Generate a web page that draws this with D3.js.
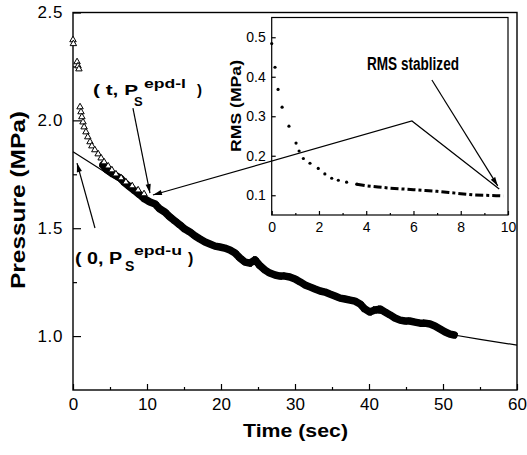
<!DOCTYPE html>
<html><head><meta charset="utf-8">
<script src="https://cdn.jsdelivr.net/npm/d3@7"></script>
<style>
body{margin:0;background:#fff}
svg{display:block}
text{font-family:"Liberation Sans",Arial,Helvetica,sans-serif;fill:#000}
</style>
</head><body>
<svg id="c" width="527" height="455"></svg>
<script>
// ---------- data ----------
const bandTime = [4.05,4.6,5.4,6.35,7.0,7.7,8.4,9.05,9.7,10.4,11.1,11.75,12.4,13.1,13.8,14.45,15.1,15.8,16.5,17.15,17.85,18.5,19.2,19.85,20.5,21.2,21.9,22.55,23.25,23.9,24.6,25.3,25.95,26.6,27.3,27.95,28.65,29.3,30.0,30.7,31.35,32.0,32.7,33.4,34.05,34.7,35.4,36.1,36.75,37.45,38.1,38.8,39.45,40.1,40.8,41.5,42.15,42.85,43.5,44.2,44.85,45.5,46.2,46.9,47.55,48.25,48.9,49.6,50.3,50.95,51.5];
const bandPressure = [1.793,1.770,1.751,1.733,1.710,1.691,1.672,1.654,1.635,1.621,1.612,1.589,1.575,1.552,1.533,1.515,1.496,1.482,1.464,1.450,1.436,1.427,1.417,1.413,1.408,1.399,1.385,1.362,1.343,1.338,1.353,1.325,1.306,1.292,1.283,1.278,1.278,1.274,1.265,1.251,1.237,1.228,1.218,1.209,1.204,1.195,1.186,1.176,1.172,1.167,1.162,1.149,1.125,1.112,1.121,1.125,1.112,1.098,1.084,1.074,1.070,1.070,1.065,1.060,1.060,1.056,1.047,1.033,1.019,1.009,1.005];
const triTime = [0,0.05,0.55,0.68,0.8,0.95,1.08,1.2,1.35,1.5,1.75,2.0,2.3,2.55,2.95,3.4,3.8,4.2,4.75,5.25,5.8,6.5,7.15,8.0,8.8,9.6];
const triPressure = [2.373,2.355,2.271,2.252,2.238,2.062,2.039,2.016,1.992,1.969,1.946,1.923,1.900,1.881,1.863,1.844,1.825,1.807,1.788,1.770,1.751,1.733,1.714,1.696,1.677,1.659];
const fitTime = [0,2.5,5,7.5,10,12.5,15,17.5,20,22.5,25,27.5,30,32.5,35,37.5,40,42.5,45,47.5,50,51.5,55,60];
const fitPressure = [1.855,1.800,1.745,1.690,1.632,1.570,1.505,1.443,1.410,1.365,1.335,1.282,1.263,1.220,1.190,1.167,1.115,1.100,1.070,1.060,1.025,1.005,0.985,0.958];
const rmsTime = [0,0.14,0.27,0.44,0.73,1.03,1.16,1.34,1.62,1.97,2.25,2.54,2.82,3.17,3.6];
const rmsValue = [0.484,0.424,0.368,0.323,0.275,0.232,0.212,0.193,0.181,0.168,0.154,0.143,0.138,0.133,0.128];
const rmsTailTime = [3.6,4.0,4.5,5.0,5.5,6.0,6.5,7.0,7.5,8.0,8.5,9.0,9.5,9.8];
const rmsTailValue = [0.128,0.124,0.121,0.118,0.116,0.114,0.112,0.110,0.107,0.104,0.101,0.100,0.099,0.098];
const xTicks = [0,10,20,30,40,50,60];
const xMinor = [5,15,25,35,45,55];
const yTicks = [1.0,1.5,2.0,2.5];
const yMinor = [1.25,1.75,2.25];
const insetXTicks = [0,2,4,6,8,10];
const insetXMinor = [1,3,5,7,9];
const insetYTicks = [0.1,0.2,0.3,0.4,0.5];

// ---------- layout ----------
const svg = d3.select("#c");
const x = d3.scaleLinear().domain([0,60]).range([73,517]);
const y = d3.scaleLinear().domain([0.75,2.5]).range([390,12.5]);
const ix = d3.scaleLinear().domain([0,10]).range([271.7,508]);
const iy = d3.scaleLinear().domain([0.05,0.55]).range([215,17.5]);

function styleAxis(g, size){
  g.select(".domain").remove();
  g.selectAll(".tick line").attr("stroke","#000").attr("stroke-width",1.2);
  g.selectAll(".tick text").attr("font-size",size).attr("fill","#000")
   .style("font-family","'Liberation Sans',Arial,sans-serif");
}

// main axes
svg.append("g").attr("transform","translate(0,390)")
  .call(d3.axisBottom(x).tickValues(xTicks).tickFormat(d3.format("d")).tickSizeInner(-6).tickSizeOuter(0).tickPadding(8))
  .call(g=>styleAxis(g,"17px"));
svg.append("g").attr("transform","translate(0,390)")
  .call(d3.axisBottom(x).tickValues(xMinor).tickFormat("").tickSizeInner(-3).tickSizeOuter(0))
  .call(g=>styleAxis(g,"0px"));
svg.append("g").attr("transform","translate(73,0)")
  .call(d3.axisLeft(y).tickValues(yTicks).tickFormat(d3.format(".1f")).tickSizeInner(-8).tickSizeOuter(0).tickPadding(10))
  .call(g=>styleAxis(g,"17px"))
  .call(g=>g.selectAll(".tick text").attr("letter-spacing","0.6px"));
svg.append("g").attr("transform","translate(73,0)")
  .call(d3.axisLeft(y).tickValues(yMinor).tickFormat("").tickSizeInner(-4).tickSizeOuter(0))
  .call(g=>styleAxis(g,"0px"));
svg.append("rect").attr("x",73).attr("y",12.5).attr("width",517-73).attr("height",390-12.5)
  .attr("fill","none").attr("stroke","#000").attr("stroke-width",1.4);

// axis titles
svg.append("text").attr("transform","translate(25,200) rotate(-90)")
  .attr("text-anchor","middle").attr("font-weight","bold").attr("font-size","21px")
  .attr("textLength",178).attr("lengthAdjust","spacingAndGlyphs").text("Pressure (MPa)");
svg.append("text").attr("x",295.5).attr("y",437)
  .attr("text-anchor","middle").attr("font-weight","bold").attr("font-size","18px")
  .attr("textLength",105).attr("lengthAdjust","spacingAndGlyphs").text("Time (sec)");

// fit curve
const line = d3.line().x(d=>x(d[0])).y(d=>y(d[1]));
svg.append("path").datum(fitTime.map((t,i)=>[t,fitPressure[i]]))
  .attr("d",line).attr("fill","none").attr("stroke","#000").attr("stroke-width",1.2);

// band of filled squares
const band = bandTime.map((t,i)=>[t,bandPressure[i]]);
svg.append("path").datum(band).attr("d",line).attr("fill","none")
  .attr("stroke","#000").attr("stroke-width",7.5).attr("stroke-linejoin","round").attr("stroke-linecap","round");
svg.append("g").selectAll("path").data(band).join("path")
  .attr("transform",d=>`translate(${x(d[0])},${y(d[1])}) rotate(20)`)
  .attr("d",d3.symbol(d3.symbolSquare,36)).attr("fill","#000");

// triangles
svg.append("g").selectAll("path").data(triTime.map((t,i)=>[t,triPressure[i]])).join("path")
  .attr("transform",d=>`translate(${x(d[0])},${y(d[1])})`)
  .attr("d",d3.symbol(d3.symbolTriangle,18)).attr("fill","#fff")
  .attr("stroke","#000").attr("stroke-width",1);

// ---------- inset ----------
const ins = svg.append("g");
ins.append("rect").attr("x",271.7).attr("y",17.5).attr("width",508-271.7).attr("height",215-17.5)
  .attr("fill","#fff").attr("stroke","#000").attr("stroke-width",1.2);
ins.append("g").attr("transform","translate(0,215)")
  .call(d3.axisBottom(ix).tickValues(insetXTicks).tickFormat(d3.format("d")).tickSizeInner(-4).tickSizeOuter(0).tickPadding(7))
  .call(g=>styleAxis(g,"14px"));
ins.append("g").attr("transform","translate(0,215)")
  .call(d3.axisBottom(ix).tickValues(insetXMinor).tickFormat("").tickSizeInner(-2).tickSizeOuter(0))
  .call(g=>styleAxis(g,"0px"));
ins.append("g").attr("transform","translate(271.7,0)")
  .call(d3.axisLeft(iy).tickValues(insetYTicks).tickFormat(d3.format(".1f")).tickSizeInner(-4).tickSizeOuter(0).tickPadding(6))
  .call(g=>styleAxis(g,"14px"));
ins.append("text").attr("transform","translate(241,106) rotate(-90)")
  .attr("text-anchor","middle").attr("font-weight","bold").attr("font-size","15px")
  .attr("textLength",92).attr("lengthAdjust","spacingAndGlyphs").text("RMS (MPa)");
ins.append("g").selectAll("circle").data(rmsTime.map((t,i)=>[t,rmsValue[i]])).join("circle")
  .attr("cx",d=>ix(d[0])).attr("cy",d=>iy(d[1])).attr("r",1.6).attr("fill","#000");
const iline = d3.line().x(d=>ix(d[0])).y(d=>iy(d[1]));
ins.append("path").datum(rmsTailTime.map((t,i)=>[t,rmsTailValue[i]]))
  .attr("d",iline).attr("fill","none").attr("stroke","#000").attr("stroke-width",3)
  .attr("stroke-dasharray","8,3,3,3");

// ---------- annotations ----------
function arrowHead(x1,y1,x2,y2){
  const a = Math.atan2(y2-y1,x2-x1), L=9, w=2.6;
  const bx = x2-L*Math.cos(a), by = y2-L*Math.sin(a);
  const px = -Math.sin(a)*w, py = Math.cos(a)*w;
  svg.append("path").attr("d",`M${x2},${y2}L${bx+px},${by+py}L${bx-px},${by-py}Z`).attr("fill","#000");
}
function seg(pts, head){
  svg.append("path").attr("d",d3.line()(pts)).attr("fill","none").attr("stroke","#000").attr("stroke-width",1.2);
  if(head){const n=pts.length;arrowHead(pts[n-2][0],pts[n-2][1],pts[n-1][0],pts[n-1][1]);}
}
seg([[x(8.1),y(2.057)],[x(10.4),y(1.663)]],true);
seg([[x(2.97),y(1.501)],[x(0.54),y(1.802)]],true);
seg([[x(57.6),y(1.682)],[x(45.8),y(1.997)],[x(10.8),y(1.654)]],true);
seg([[x(48.5),y(2.187)],[x(57.4),y(1.696)]],true);

function txt(s,xx,yy,size,len){
  const t = svg.append("text").attr("x",xx).attr("y",yy).attr("font-weight","bold").attr("font-size",size+"px").text(s);
  if(len) t.attr("textLength",len).attr("lengthAdjust","spacingAndGlyphs");
  return t;
}
txt("( t, P",93,95,15,45);
txt("S",134,106,13);
txt("epd-l",144,88,12,42);
txt(")",197,95,15);

txt("( 0, P",75,264,16,47);
txt("S",125,271,14);
txt("epd-u",134,255,12,48);
txt(")",188,264,16);

txt("RMS stablized",367,70,18,92);
</script>
</body></html>
